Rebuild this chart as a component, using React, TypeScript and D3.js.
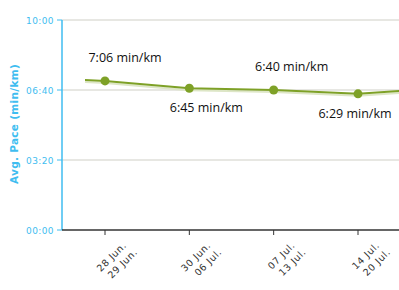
import React from "react";
import * as d3 from "d3";

const weekStarts = ["21 Jun.", "28 Jun.", "30 Jun.", "07 Jul.", "14 Jul.", "21 Jul."];
const weekEnds = ["27 Jun.", "29 Jun.", "06 Jul.", "13 Jul.", "20 Jul.", "27 Jul."];
const paceSeconds = [437, 426, 405, 400, 389, 406];
const labelled = [false, true, true, true, true, false];
const labelAbove = [true, true, false, true, false, true];
const yTicks = [0, 200, 400, 600];

const W = 399, H = 290;
const plotLeft = 62, plotTop = 20, plotBottom = 230;

function fmtTick(s: number) {
  const m = Math.floor(s / 60), sec = s % 60;
  return `${String(m).padStart(2, "0")}:${String(sec).padStart(2, "0")}`;
}
function fmtPace(s: number) {
  const m = Math.floor(s / 60), sec = s % 60;
  return `${m}:${String(sec).padStart(2, "0")} min/km`;
}

export default function App() {
  const x = d3.scaleLinear().domain([1, 4]).range([105, 358]);
  const y = d3.scaleLinear().domain([0, 600]).range([plotBottom, plotTop]);
  const line = d3.line<number>().x((_, i) => x(i)).y((d) => y(d));
  const blue = "#3fbdf0";
  const green = "#7ea127";
  const labelDx = [0, 20, 17, 18, -3, 0];

  return (
    <svg width={W} height={H} style={{ position: "absolute", left: 0, top: 0 }}>
      <defs>
        <clipPath id="clip">
          <rect x={85} y={0} width={W - 85} height={H} />
        </clipPath>
      </defs>
      {yTicks.map((t) => (
        <g key={t}>
          {t > 0 && (
            <line x1={plotLeft} x2={W} y1={y(t)} y2={y(t)} stroke="#cfcfc6" strokeWidth={1} />
          )}
          <line x1={plotLeft - 5} x2={plotLeft} y1={y(t)} y2={y(t)} stroke={blue} strokeWidth={1} />
          <text x={plotLeft - 8} y={y(t) + 3.5} textAnchor="end" fill={blue}
            fontFamily="DejaVu Sans, sans-serif" fontSize={9} letterSpacing={0.4}>{fmtTick(t)}</text>
        </g>
      ))}
      <line x1={plotLeft} x2={plotLeft} y1={plotTop} y2={plotBottom} stroke={blue} strokeWidth={1.5} />
      <line x1={plotLeft} x2={W} y1={plotBottom} y2={plotBottom} stroke="#333" strokeWidth={1.5} />
      <text transform={`translate(18,${124}) rotate(-90)`} textAnchor="middle" fill={blue}
        fontFamily="DejaVu Sans, sans-serif" fontWeight="bold" fontSize={10.5} letterSpacing={0.3}>Avg. Pace (min/km)</text>

      {weekStarts.map((s, i) => i >= 1 && i <= 4 ? (
        <g key={s}>
          <line x1={x(i)} x2={x(i)} y1={plotBottom} y2={plotBottom + 5} stroke="#333" />
          <g transform={`translate(${x(i) + 22},${plotBottom + 16}) rotate(-45)`}>
            <text textAnchor="end" fill="#333" fontFamily="DejaVu Sans, sans-serif" fontSize={9.5} letterSpacing={0.6}>
              <tspan x={0} y={0}>{s}</tspan>
              <tspan x={3} y={12.5}>{weekEnds[i]}</tspan>
            </text>
          </g>
        </g>
      ) : null)}

      <g clipPath="url(#clip)">
        <path d={line(paceSeconds) || ""} fill="none" stroke="#dde6c6" strokeWidth={2} transform="translate(0,2)" />
        <path d={line(paceSeconds) || ""} fill="none" stroke={green} strokeWidth={2} />
      </g>
      {paceSeconds.map((v, i) => labelled[i] ? (
        <g key={i}>
          <circle cx={x(i)} cy={y(v)} r={4.5} fill={green} />
          <text x={x(i) + labelDx[i]} y={labelAbove[i] ? y(v) - 19 : y(v) + 24} textAnchor="middle"
            fill="#111" fontFamily="Open Sans, sans-serif" fontSize={12.5}>{fmtPace(v)}</text>
        </g>
      ) : null)}
    </svg>
  );
}
